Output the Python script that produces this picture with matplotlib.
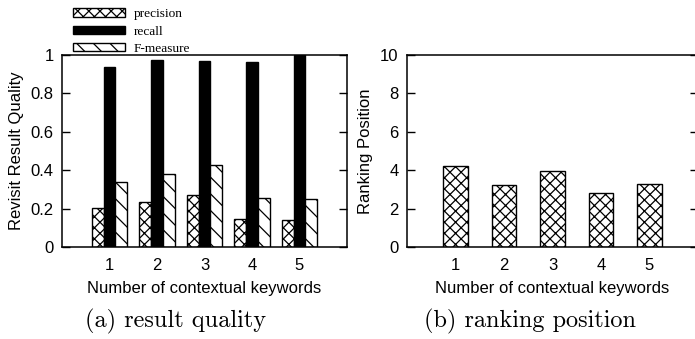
import numpy as np
import matplotlib
matplotlib.use("Agg")
import matplotlib.pyplot as plt

# keyword counts on the x axis
keywords = [1, 2, 3, 4, 5]

# result quality per keyword count
precision = [0.205, 0.235, 0.270, 0.148, 0.142]
recall = [0.939, 0.974, 0.969, 0.965, 1.000]
f_measure = [0.337, 0.380, 0.427, 0.255, 0.248]

# mean ranking position per keyword count
ranking = [4.23, 3.21, 3.94, 2.81, 3.26]

W, H = 695, 339
SANS = "Liberation Sans"
FS = 12
plt.rcParams["hatch.linewidth"] = 0.9
plt.rcParams["axes.linewidth"] = 1.1


def style_axes(ax):
    ax.set_xlim(0, 6)
    ax.set_xticks(keywords)
    ax.tick_params(axis="x", length=0, pad=8, labelsize=FS)
    ax.tick_params(axis="y", direction="in", length=6, width=1,
                   right=True, labelsize=FS, pad=6)
    for lab in ax.get_xticklabels() + ax.get_yticklabels():
        lab.set_family(SANS)
    ax.set_xlabel("Number of contextual keywords", family=SANS, fontsize=FS, labelpad=6)


fig = plt.figure(figsize=(W / 100, H / 100), dpi=100)

# (a) result quality
ax1 = fig.add_axes([62 / W, 92 / H, 285 / W, 192 / H])
x = np.array(keywords, dtype=float)
bw = 0.25
ax1.bar(x - bw, precision, bw, facecolor="white", edgecolor="black", lw=1,
        hatch="xxx", label="precision")
ax1.bar(x, recall, bw, facecolor="black", edgecolor="black", lw=1, label="recall")
ax1.bar(x + bw, f_measure, bw, facecolor="white", edgecolor="black", lw=1,
        hatch="\\\\", label="F-measure")
ax1.set_ylim(0, 1)
ax1.set_yticks([0, 0.2, 0.4, 0.6, 0.8, 1])
ax1.set_yticklabels(["0", "0.2", "0.4", "0.6", "0.8", "1"])
style_axes(ax1)
ax1.set_ylabel("Revisit Result Quality", family=SANS, fontsize=FS, labelpad=5)

leg = ax1.legend(loc="lower left", bbox_to_anchor=(10 / 285, 0.995), frameon=False,
                 prop={"family": "Liberation Serif", "size": 9.6},
                 handlelength=3.85, handleheight=0.62, labelspacing=0.38,
                 handletextpad=0.7, borderaxespad=0.0, borderpad=0.1)

# (b) ranking position
ax2 = fig.add_axes([407 / W, 92 / H, 291 / W, 192 / H])
ax2.bar(x, ranking, 0.5, facecolor="white", edgecolor="black", lw=1, hatch="xxx")
ax2.set_ylim(0, 10)
ax2.set_yticks([0, 2, 4, 6, 8, 10])
style_axes(ax2)
ax2.set_ylabel("Ranking Position", family=SANS, fontsize=FS, labelpad=5)

fig.text(176 / W, 1 - 321 / H, "(a) result quality", family="cmr10",
         fontsize=17.5, ha="center", va="center")
fig.text(530 / W, 1 - 321 / H, "(b) ranking position", family="cmr10",
         fontsize=17.5, ha="center", va="center")

fig.savefig("out.png", dpi=100)
